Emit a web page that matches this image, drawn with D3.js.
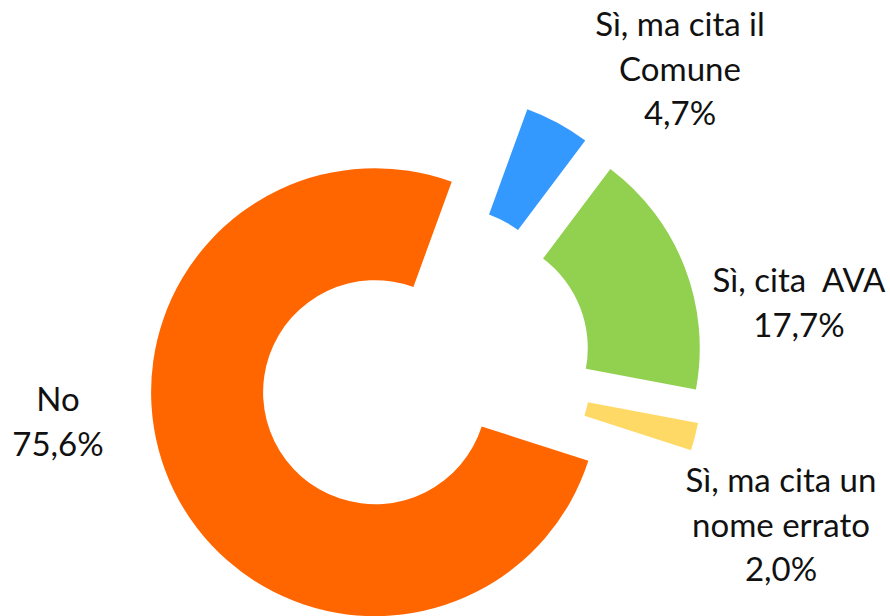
<!DOCTYPE html>
<html>
<head>
<meta charset="utf-8">
<script src="https://cdn.jsdelivr.net/npm/d3@7"></script>
<style>
  body { margin: 0; background: #fff; }
  svg { display: block; }
</style>
</head>
<body>
<script>
// data
const categories = ["Sì, ma cita il Comune", "Sì, cita  AVA", "Sì, ma cita un nome errato", "No"];
const values = [4.7, 17.7, 2.0, 75.6];
const labelLines = [
  ["Sì, ma cita il", "Comune", "4,7%"],
  ["Sì, cita  AVA", "17,7%"],
  ["Sì, ma cita un", "nome errato", "2,0%"],
  ["No", "75,6%"]
];
const colors = ["#3399FF", "#92D050", "#FFD966", "#FF6600"];

// layout
const w = 890;
const h = 616;
const cx = 424.5, cy = 368;
const outerR = 224;
const innerR = 112;
const explode = 55;
// label anchors (centre x, first baseline y)
const labelPos = [[680, 36], [799, 292], [781, 492], [58, 411]];
const lineGap = 44.5;

const data = categories.map((c, i) => ({category: c, value: values[i]}));

const pie = d3.pie()
    .value(d => d.value)
    .sort(null)
    .startAngle(20 * Math.PI / 180)
    .endAngle(20 * Math.PI / 180 + 2 * Math.PI);

const arc = d3.arc()
    .innerRadius(innerR)
    .outerRadius(outerR);

const svg = d3.select("body")
  .append("svg")
    .attr("width", w)
    .attr("height", h);

const g = svg.append("g")
    .attr("transform", `translate(${cx}, ${cy})`);

g.selectAll("path")
    .data(pie(data))
  .enter().append("path")
    .attr("d", arc)
    .attr("fill", (d, i) => colors[i])
    .attr("transform", d => {
      const mid = (d.startAngle + d.endAngle) / 2;
      return `translate(${explode * Math.sin(mid)}, ${-explode * Math.cos(mid)})`;
    });

// labels
const labels = svg.append("g")
    .attr("font-family", "Lato, 'Open Sans', sans-serif")
    .attr("font-weight", 400)
    .attr("font-size", 33)
    .attr("fill", "#111")
    .attr("text-anchor", "middle");

labels.selectAll("text")
    .data(labelLines)
  .enter().append("text")
    .attr("x", (d, i) => labelPos[i][0])
    .attr("y", (d, i) => labelPos[i][1])
    .style("white-space", "pre")
    .each(function(lines, i) {
      d3.select(this).selectAll("tspan")
          .data(lines)
        .enter().append("tspan")
          .attr("x", labelPos[i][0])
          .attr("y", (l, j) => labelPos[i][1] + j * lineGap)
          .text(l => l);
    });
</script>
</body>
</html>
